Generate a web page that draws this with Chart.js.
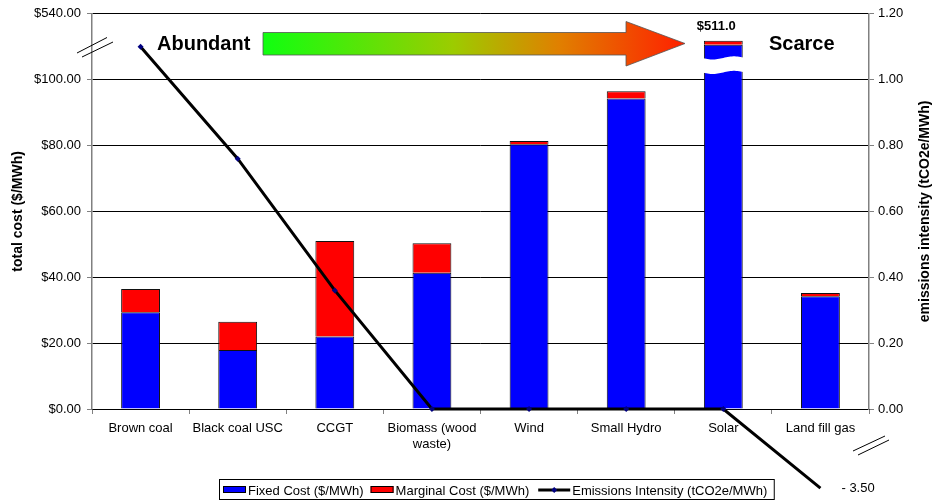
<!DOCTYPE html>
<html><head><meta charset="utf-8">
<script src="https://cdn.jsdelivr.net/npm/chart.js@4.4.1/dist/chart.umd.min.js"></script>
<style>html,body{margin:0;padding:0;background:#fff;}</style>
</head><body>
<canvas id="c" width="941" height="501" style="display:block;width:941px;height:501px"></canvas>
<script>
// ---- data (bar heights as plotted on the broken axes) ----
const categories = ['Brown coal','Black coal USC','CCGT',['Biomass (wood','waste)'],'Wind','Small Hydro','Solar','Land fill gas'];
const fixedCost = [29.4, 17.9, 22.0, 41.4, 80.4, 94.3, 110.6, 34.2];
const marginalCost = [7.0, 8.6, 29.0, 8.9, 1.0, 2.2, 1.2, 1.0];
const emissionsIntensity = [1.10, 0.76, 0.36, 0, 0, 0, 0, -0.24];
const costTickLabels = ['$0.00','$20.00','$40.00','$60.00','$80.00','$100.00','$540.00'];
const emissionTickLabels = ['0.00','0.20','0.40','0.60','0.80','1.00','1.20'];
const barValueLabels = ['', '', '', '', '', '', '$511.0', ''];
const pointValueLabels = ['', '', '', '', '', '', '', '- 3.50'];
const seriesNames = ['Fixed Cost ($/MWh)','Marginal Cost ($/MWh)','Emissions Intensity (tCO2e/MWh)'];
const arrowLabels = ['Abundant','Scarce'];
const axisTitles = ['total cost ($/MWh)','emissions intensity (tCO2e/MWh)'];

const FONT = "'Liberation Sans', Arial, sans-serif";
const BLUE = '#0000FF', RED = '#FF0000', NAVY = '#000080';

const decor = {
  id: 'decor',
  afterDatasetsDraw(chart) {
    const ctx = chart.ctx;
    const ys = chart.scales.y;
    const metaFixed = chart.getDatasetMeta(0);
    barValueLabels.forEach((lab, i) => {
      if (!lab) return;
      const bar = metaFixed.data[i];
      const half = bar.width / 2;
      const l = bar.x - half - 2, r = bar.x + half + 2;
      const top = ys.getPixelForValue(106.6), bot = ys.getPixelForValue(102.2);
      const amp = 1.6;
      ctx.save();
      ctx.beginPath();
      const n = 30;
      for (let k = 0; k <= n; k++) {
        const t = k / n, x = l + (r - l) * t;
        const y = top + amp * Math.sin(Math.PI * 2 * t);
        k === 0 ? ctx.moveTo(x, y) : ctx.lineTo(x, y);
      }
      for (let k = n; k >= 0; k--) {
        const t = k / n, x = l + (r - l) * t;
        const y = bot + amp * Math.sin(Math.PI * 2 * t);
        ctx.lineTo(x, y);
      }
      ctx.closePath();
      ctx.fillStyle = '#fff';
      ctx.fill();
      ctx.restore();
      const metaM = chart.getDatasetMeta(1);
      const tb = metaM.data[i];
      ctx.save();
      ctx.font = 'bold 13px ' + FONT;
      ctx.fillStyle = '#000';
      ctx.textAlign = 'center';
      ctx.textBaseline = 'middle';
      ctx.fillText(lab, bar.x - 7, tb.y - 14);
      ctx.restore();
    });
  },
  afterDraw(chart) {
    const ctx = chart.ctx;
    const area = chart.chartArea;
    const metaL = chart.getDatasetMeta(2);
    pointValueLabels.forEach((lab, i) => {
      if (!lab) return;
      const p = metaL.data[i];
      ctx.save();
      ctx.font = '13px ' + FONT;
      ctx.fillStyle = '#000';
      ctx.textAlign = 'left';
      ctx.textBaseline = 'middle';
      ctx.fillText(lab, p.x + 21, p.y);
      ctx.restore();
    });
    // gradient arrow
    ctx.save();
    const g = ctx.createLinearGradient(263, 0, 685, 0);
    g.addColorStop(0, '#10FF10');
    g.addColorStop(0.45, '#9CCC00');
    g.addColorStop(0.7, '#E08000');
    g.addColorStop(1, '#FF2000');
    ctx.beginPath();
    ctx.moveTo(263, 32.5);
    ctx.lineTo(626, 32.5);
    ctx.lineTo(626, 21.5);
    ctx.lineTo(685, 43.5);
    ctx.lineTo(626, 66);
    ctx.lineTo(626, 55);
    ctx.lineTo(263, 55);
    ctx.closePath();
    ctx.fillStyle = g;
    ctx.fill();
    ctx.strokeStyle = '#555';
    ctx.lineWidth = 0.8;
    ctx.stroke();
    ctx.restore();
    ctx.save();
    ctx.font = 'bold 20px ' + FONT;
    ctx.fillStyle = '#000';
    ctx.textBaseline = 'middle';
    ctx.textAlign = 'left';
    ctx.fillText(arrowLabels[0], 157, 44);
    ctx.fillText(arrowLabels[1], 769, 44);
    ctx.restore();
    // axis break marks
    ctx.save();
    ctx.strokeStyle = '#000';
    ctx.lineWidth = 1;
    const seg = (a, b, c, d) => { ctx.beginPath(); ctx.moveTo(a, b); ctx.lineTo(c, d); ctx.stroke(); };
    seg(77, 53, 107, 37.5);
    seg(82, 57, 113, 42);
    seg(853, 451, 885, 436);
    seg(858, 455, 889, 440);
    ctx.restore();
    // axis titles
    const cy = (area.top + area.bottom) / 2;
    [[18, axisTitles[0]], [925, axisTitles[1]]].forEach(([tx, txt]) => {
      ctx.save();
      ctx.font = 'bold 14px ' + FONT;
      ctx.fillStyle = '#000';
      ctx.textAlign = 'center';
      ctx.textBaseline = 'middle';
      ctx.translate(tx, cy); ctx.rotate(-Math.PI / 2); ctx.fillText(txt, 0, 0);
      ctx.restore();
    });
    // legend
    ctx.save();
    ctx.font = '13px ' + FONT;
    ctx.textBaseline = 'middle';
    const ly = 490;
    let x = 223;
    const items = [
      {t: seriesNames[0], kind: 'box', c: BLUE},
      {t: seriesNames[1], kind: 'box', c: RED},
      {t: seriesNames[2], kind: 'line', c: '#000'}
    ];
    items.forEach((it) => {
      let w;
      if (it.kind === 'box') {
        w = 23;
        ctx.fillStyle = it.c;
        ctx.fillRect(x, ly - 4, w, 7);
        ctx.strokeStyle = '#000';
        ctx.lineWidth = 1;
        ctx.strokeRect(x + 0.5, ly - 3.5, w - 1, 6);
      } else {
        w = 34;
        ctx.strokeStyle = '#000';
        ctx.lineWidth = 3;
        ctx.beginPath(); ctx.moveTo(x + 2, ly); ctx.lineTo(x + w, ly); ctx.stroke();
        const mx = x + 2 + (w - 2) / 2;
        ctx.fillStyle = NAVY;
        ctx.beginPath();
        ctx.moveTo(mx, ly - 3); ctx.lineTo(mx + 3, ly); ctx.lineTo(mx, ly + 3); ctx.lineTo(mx - 3, ly);
        ctx.closePath(); ctx.fill();
      }
      x += w + 2;
      ctx.fillStyle = '#000';
      ctx.fillText(it.t, x, ly + 1);
      x += ctx.measureText(it.t).width + 7;
    });
    ctx.strokeStyle = '#000';
    ctx.lineWidth = 1;
    ctx.strokeRect(219.5, 479.5, x - 219.5, 20);
    ctx.restore();
  }
};

new Chart(document.getElementById('c'), {
  type: 'bar',
  data: {
    labels: categories,
    datasets: [
      {label: seriesNames[0], data: fixedCost, backgroundColor: BLUE, borderColor: '#111', borderWidth: 1, stack: 's', yAxisID: 'y', order: 1, categoryPercentage: 0.8, barPercentage: 0.5},
      {label: seriesNames[1], data: marginalCost, backgroundColor: RED, borderColor: '#111', borderWidth: 1, stack: 's', yAxisID: 'y', order: 1, categoryPercentage: 0.8, barPercentage: 0.5},
      {label: seriesNames[2], type: 'line', data: emissionsIntensity, yAxisID: 'y1', order: 0, borderColor: '#000', borderWidth: 3, tension: 0, fill: false,
       pointStyle: 'rectRot', pointRadius: 3, pointBackgroundColor: NAVY, pointBorderColor: NAVY, pointBorderWidth: 0, clip: false}
    ]
  },
  options: {
    responsive: false,
    animation: false,
    devicePixelRatio: 1,
    layout: {padding: {top: 13, left: 0, right: 0, bottom: 0}},
    plugins: {legend: {display: false}, tooltip: {enabled: false}},
    scales: {
      x: {
        stacked: true,
        grid: {offset: true, drawOnChartArea: false, tickLength: 5, color: '#808080', tickColor: '#808080'},
        border: {color: '#000', width: 1},
        ticks: {font: {family: FONT, size: 13}, color: '#000', maxRotation: 0, autoSkip: false, padding: 7},
        afterFit(s) { s.height = 92; }
      },
      y: {
        stacked: true, min: 0, max: 120, position: 'left',
        grid: {color: '#000', tickColor: '#808080', tickLength: 5},
        border: {color: '#808080', width: 1.5},
        ticks: {stepSize: 20, font: {family: FONT, size: 13}, color: '#000', padding: 6,
          callback: (v, i) => costTickLabels[i]},
        afterFit(s) { s.width = 92; }
      },
      y1: {
        min: 0, max: 1.2, position: 'right',
        grid: {drawOnChartArea: false, tickColor: '#808080', tickLength: 5},
        border: {color: '#808080', width: 1.5},
        ticks: {stepSize: 0.2, font: {family: FONT, size: 13}, color: '#000', padding: 4,
          callback: (v, i) => emissionTickLabels[i]},
        afterFit(s) { s.width = 72; }
      }
    }
  },
  plugins: [decor]
});
</script>
</body></html>
